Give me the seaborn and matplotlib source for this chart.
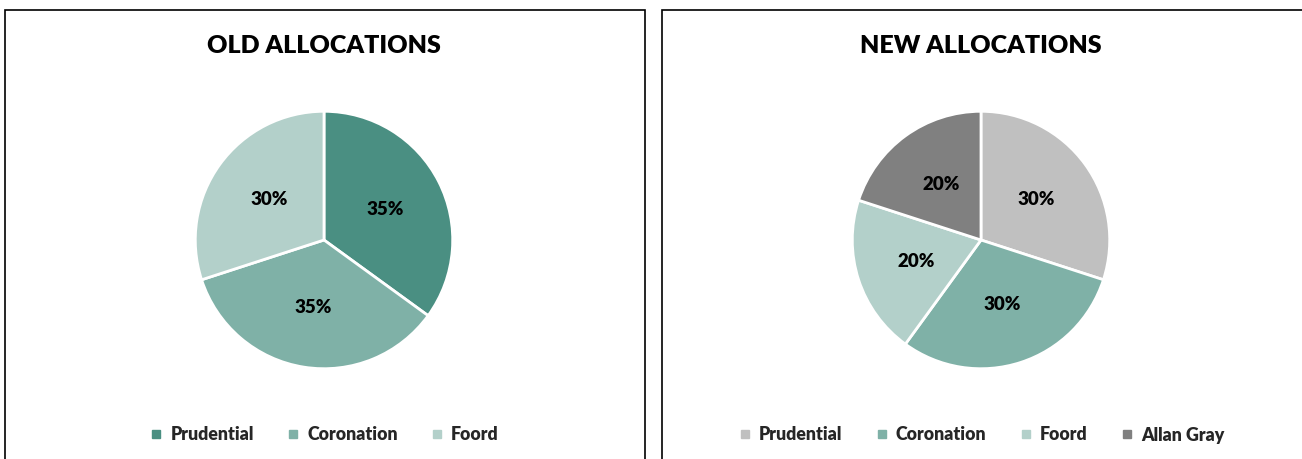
import matplotlib
matplotlib.use("Agg")
import matplotlib.pyplot as plt
import seaborn as sns
from matplotlib.lines import Line2D
from matplotlib.patches import Rectangle

sns.set_theme(style="white")
plt.rcParams["font.family"] = ["Lato", "DejaVu Sans"]

# Data
old_funds = ["Prudential", "Coronation", "Foord"]
old_alloc = [35, 35, 30]
old_colors = ["#4a8f82", "#7fb1a7", "#b3d0ca"]

new_funds = ["Prudential", "Coronation", "Foord", "Allan Gray"]
new_alloc = [30, 30, 20, 20]
new_colors = ["#c0c0c0", "#7fb1a7", "#b3d0ca", "#808080"]

W, H = 1302, 459
fig = plt.figure(figsize=(W / 100, H / 100), dpi=100)
fig.patch.set_facecolor("white")


def px_axes(cx, cy, r):
    # square axes around a pie centre given in pixel coords (top origin)
    return fig.add_axes([(cx - r) / W, (H - cy - r) / H, 2 * r / W, 2 * r / H])


def draw_panel(box_x0, box_x1, cx, title, funds, values, colors):
    fig.patches.append(Rectangle((box_x0 / W, -0.1), (box_x1 - box_x0) / W, (H - 10) / H + 0.1,
                                 transform=fig.transFigure, fill=False,
                                 edgecolor="black", linewidth=1.2))
    ax = px_axes(cx, 240, 130)
    ax.pie(values, colors=colors, startangle=90, counterclock=False,
           autopct=lambda p: f"{p:.0f}%", pctdistance=0.53,
           wedgeprops=dict(edgecolor="white", linewidth=2),
           textprops=dict(fontsize=13.5, fontweight="heavy", color="black"))
    ax.set_xlim(-1.01, 1.01)
    ax.set_ylim(-1.01, 1.01)
    fig.text(cx / W, 1 - 46 / H, title, ha="center", va="center",
             fontsize=18, fontweight="heavy", color="black")
    handles = [Line2D([], [], marker="s", linestyle="", markersize=6,
                      markerfacecolor=c, markeredgecolor=c) for c in colors]
    fig.legend(handles, funds, loc="center", bbox_to_anchor=(cx / W, 1 - 435 / H),
               ncol=len(funds), frameon=False, handlelength=0.8, handletextpad=0.4,
               columnspacing=1.8, prop=dict(size=12.8, weight="heavy"))


draw_panel(5, 645, 324, "OLD ALLOCATIONS", old_funds, old_alloc, old_colors)
draw_panel(662, 1310, 981, "NEW ALLOCATIONS", new_funds, new_alloc, new_colors)

fig.savefig("out.png", dpi=100)
